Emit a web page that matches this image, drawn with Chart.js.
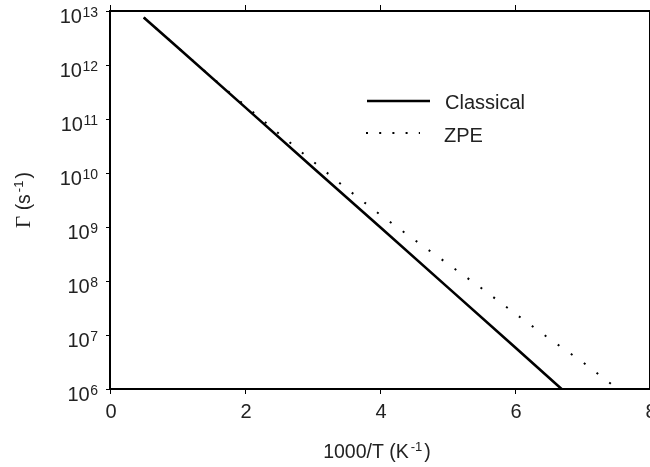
<!DOCTYPE html>
<html>
<head>
<meta charset="utf-8">
<script src="https://cdn.jsdelivr.net/npm/chart.js@4/dist/chart.umd.min.js"></script>
<style>
  html, body { margin: 0; padding: 0; background: #fff; }
  #wrap { width: 650px; height: 467px; }
</style>
</head>
<body>
<div id="wrap"><canvas id="c" width="650" height="467"></canvas></div>
<script>
// ---- data ----
const xTickValues = [0, 2, 4, 6, 8];
const xTickLabels = ['0', '2', '4', '6', '8'];
const yTickExponents = [6, 7, 8, 9, 10, 11, 12, 13];

const classicalX = [0.5, 1, 2, 3, 4, 5, 6, 6.69];
const classicalY = [7.6e12, 2.14e12, 1.66e11, 1.28e10, 1.0e9, 7.7e7, 5.95e6, 1.0e6];

const zpeX = [0.5, 1, 1.5, 2, 2.5, 3, 3.5, 4, 4.5, 5, 5.5, 6, 6.5, 7, 7.52];
const zpeY = [7.6e12, 2.14e12, 6.0e11, 1.78e11, 5.4e10, 1.66e10, 5.2e9, 1.7e9, 5.9e8, 2.1e8, 7.4e7, 2.5e7, 8.7e6, 3.16e6, 1.0e6];

const seriesNames = ['Classical', 'ZPE'];
const xTitle = ['1000/T (K', '-1', ')'];
const yTitle = ['Γ', ' (s', '-1', ')'];

const toPoints = (xs, ys) => xs.map((x, i) => ({ x: x, y: ys[i] }));

const TXT = '#222';
const SANS = '"Liberation Sans", Arial, Helvetica, sans-serif';
const SERIF = '"Liberation Serif", "DejaVu Serif", serif';

const textPlugin = {
  id: 'textPlugin',
  afterDraw(chart) {
    const ctx = chart.ctx;
    const xs = chart.scales.x;
    const ys = chart.scales.y;
    const area = chart.chartArea;
    ctx.save();

    // frame
    ctx.strokeStyle = '#000';
    ctx.lineWidth = 2;
    ctx.strokeRect(area.left, area.top, area.right - area.left, area.bottom - area.top);

    ctx.fillStyle = TXT;
    ctx.textBaseline = 'alphabetic';

    // x tick labels
    ctx.font = '20px ' + SANS;
    ctx.textAlign = 'center';
    xTickValues.forEach((v, i) => {
      ctx.fillText(xTickLabels[i], xs.getPixelForValue(v) + 1, area.bottom + 28.5);
    });

    // y tick labels: 10^n with superscript
    const rightEdge = 98;
    yTickExponents.forEach(e => {
      const py = ys.getPixelForValue(Math.pow(10, e));
      const base = py + 11.5;
      ctx.font = '14px ' + SANS;
      ctx.textAlign = 'right';
      const expStr = String(e);
      const ew = ctx.measureText(expStr).width;
      ctx.fillText(expStr, rightEdge, base - 6);
      ctx.font = '20px ' + SANS;
      ctx.fillText('10', rightEdge - ew - 0.5, base);
    });

    // x title
    ctx.textAlign = 'left';
    const pieces = [
      { t: xTitle[0], f: '19.5px ' + SANS, dy: 0, gapAfter: 2 },
      { t: xTitle[1], f: '13px ' + SANS, dy: -7, gapAfter: 2 },
      { t: xTitle[2], f: '19.5px ' + SANS, dy: 0, gapAfter: 0 }
    ];
    let total = 0;
    pieces.forEach(p => { ctx.font = p.f; p.w = ctx.measureText(p.t).width; total += p.w + p.gapAfter; });
    let cx = (area.left + area.right) / 2 - 3 - total / 2;
    pieces.forEach(p => { ctx.font = p.f; ctx.fillText(p.t, cx, 457.5 + p.dy); cx += p.w + p.gapAfter; });

    // y title (rotated)
    ctx.save();
    ctx.translate(30, (area.top + area.bottom) / 2);
    ctx.rotate(-Math.PI / 2);
    const ypieces = [
      { t: yTitle[0], f: '21px ' + SERIF, dy: 0, gapAfter: 0 },
      { t: yTitle[1], f: '19.5px ' + SANS, dy: 0, gapAfter: 2 },
      { t: yTitle[2], f: '13px ' + SANS, dy: -7, gapAfter: 2 },
      { t: yTitle[3], f: '19.5px ' + SANS, dy: 0, gapAfter: 0 }
    ];
    total = 0;
    ypieces.forEach(p => { ctx.font = p.f; p.w = ctx.measureText(p.t).width; total += p.w + p.gapAfter; });
    cx = -total / 2;
    ypieces.forEach(p => { ctx.font = p.f; ctx.fillText(p.t, cx, p.dy); cx += p.w + p.gapAfter; });
    ctx.restore();

    // legend
    ctx.strokeStyle = '#000';
    ctx.lineWidth = 2.5;
    ctx.setLineDash([]);
    ctx.beginPath();
    ctx.moveTo(367, 101);
    ctx.lineTo(430, 101);
    ctx.stroke();
    ctx.lineWidth = 2;
    ctx.setLineDash([2, 11.2]);
    ctx.beginPath();
    ctx.moveTo(366, 133);
    ctx.lineTo(420, 133);
    ctx.stroke();
    ctx.setLineDash([]);
    ctx.font = '20px ' + SANS;
    ctx.textAlign = 'left';
    ctx.fillText(seriesNames[0], 445, 109);
    ctx.fillText(seriesNames[1], 444, 141.5);

    ctx.restore();
  }
};

const tickGrid = {
  display: true,
  drawOnChartArea: false,
  drawTicks: true,
  tickLength: 5,
  tickColor: '#000',
  color: '#000',
  lineWidth: 1
};

new Chart(document.getElementById('c'), {
  type: 'line',
  data: {
    datasets: [
      {
        label: seriesNames[1],
        data: toPoints(zpeX, zpeY),
        borderColor: '#000',
        borderWidth: 2,
        borderDash: [2, 14],
        borderCapStyle: 'butt',
        pointRadius: 0,
        tension: 0,
        fill: false,
        xAxisID: 'x',
        yAxisID: 'y'
      },
      {
        label: seriesNames[0],
        data: toPoints(classicalX, classicalY),
        borderColor: '#000',
        borderWidth: 2.6,
        pointRadius: 0,
        tension: 0,
        fill: false,
        xAxisID: 'x',
        yAxisID: 'y'
      }
    ]
  },
  options: {
    responsive: false,
    animation: false,
    devicePixelRatio: 1,
    layout: { padding: 0 },
    plugins: {
      legend: { display: false },
      tooltip: { enabled: false },
      title: { display: false }
    },
    scales: {
      x: {
        type: 'linear',
        position: 'bottom',
        min: 0,
        max: 8,
        ticks: { display: false, stepSize: 2 },
        afterBuildTicks: s => { s.ticks = xTickValues.map(v => ({ value: v })); },
        grid: tickGrid,
        border: { display: false },
        afterFit: s => { s.height = 78; }
      },
      x2: {
        type: 'linear',
        position: 'top',
        min: 0,
        max: 8,
        ticks: { display: false, stepSize: 2 },
        afterBuildTicks: s => { s.ticks = xTickValues.map(v => ({ value: v })); },
        grid: Object.assign({}, tickGrid, { tickLength: 6 }),
        border: { display: false },
        afterFit: s => { s.height = 11; }
      },
      y: {
        type: 'logarithmic',
        position: 'left',
        min: 1e6,
        max: 1e13,
        ticks: { display: false },
        afterBuildTicks: s => { s.ticks = yTickExponents.map(e => ({ value: Math.pow(10, e) })); },
        grid: Object.assign({}, tickGrid, { tickLength: 4 }),
        border: { display: false },
        afterFit: s => { s.width = 110; }
      }
    }
  },
  plugins: [textPlugin]
});
</script>
</body>
</html>
